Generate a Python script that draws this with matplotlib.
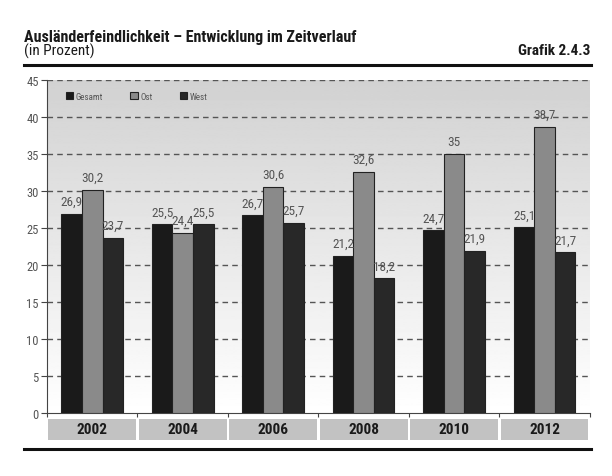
import matplotlib.pyplot as plt
import numpy as np
from matplotlib.lines import Line2D

jahre = ['2002', '2004', '2006', '2008', '2010', '2012']
gesamt = [26.9, 25.5, 26.7, 21.2, 24.7, 25.1]
ost = [30.2, 24.4, 30.6, 32.6, 35.0, 38.7]
west = [23.7, 25.5, 25.7, 18.2, 21.9, 21.7]

plt.rcParams['font.family'] = ['Liberation Sans Narrow', 'DejaVu Sans Condensed',
                               'Roboto Condensed', 'Roboto', 'DejaVu Sans']

fig = plt.figure(figsize=(6.12, 4.77), dpi=100)
ax = fig.add_axes([0.0768, 0.132, 0.887, 0.698])

# hintergrund: verlauf grau -> weiss
grad = np.linspace(0, 1, 256).reshape(-1, 1)
ax.imshow(grad, extent=[-0.5, 5.5, 0, 45], aspect='auto', cmap='gray',
          vmin=-4.6, vmax=1.0, zorder=0, origin='upper')

x = np.arange(len(jahre))
w = 0.227
serien = [(gesamt, '#1a1a1a', 'Gesamt', -w), (ost, '#8a8a8a', 'Ost', 0),
          (west, '#282828', 'West', w)]
for werte, farbe, name, off in serien:
    ax.bar(x + off, werte, w, color=farbe, edgecolor='#222222', linewidth=0.8,
           label=name, zorder=3)
    for xi, v in zip(x + off, werte):
        txt = f'{v:g}'.replace('.', ',')
        ax.text(xi, v + 0.8, txt, ha='center', va='bottom', fontsize=9.5,
                color='#555555', zorder=4)

ax.set_xlim(-0.5, 5.5)
ax.set_ylim(0, 45)
ax.set_yticks(range(0, 46, 5))
for y in range(5, 46, 5):
    ax.axhline(y, color='#555555', linewidth=1, linestyle=(0, (4, 3)), zorder=1)
ax.set_xticks(np.arange(-0.5, 5.6, 1))
ax.set_xticklabels([])
ax.tick_params(axis='x', direction='out', length=3, color='#444444')
ax.tick_params(axis='y', direction='out', length=4, color='#444444',
               labelsize=9, labelcolor='#555555', pad=2)
for s in ['top', 'right']:
    ax.spines[s].set_visible(False)
ax.spines['left'].set_color('#444444')
ax.spines['bottom'].set_color('#444444')

ax.legend(loc='upper left', ncol=3, frameon=False, fontsize=6.5,
          handlelength=0.8, handleheight=0.8, columnspacing=3,
          handletextpad=0.3, bbox_to_anchor=(0.02, 0.99), labelcolor='#555555')

# jahres-kaesten unter der achse
axk = fig.add_axes([0.0768, 0.0755, 0.887, 0.044], sharex=ax)
axk.bar(x, [1] * len(jahre), 0.97, color='#c2c2c2')
for xi, j in zip(x, jahre):
    axk.text(xi, 0.5, j, ha='center', va='center', fontsize=11,
             fontweight='bold', color='#1a1a1a')
axk.set_ylim(0, 1)
axk.axis('off')

# linien oben und unten
fig.add_artist(Line2D([0.039, 0.965], [0.862, 0.862], color='#111111', linewidth=2.2))
fig.add_artist(Line2D([0.039, 0.965], [0.057, 0.057], color='#111111', linewidth=2.2))

fig.text(0.039, 0.922, 'Ausländerfeindlichkeit – Entwicklung im Zeitverlauf',
         fontsize=11.5, fontweight='bold', va='center', color='#1a1a1a')
fig.text(0.039, 0.893, '(in Prozent)', fontsize=11, va='center', color='#1a1a1a')
fig.text(0.965, 0.893, 'Grafik 2.4.3', fontsize=11, fontweight='bold',
         va='center', ha='right', color='#1a1a1a')

fig.savefig('out.png', dpi=100)
